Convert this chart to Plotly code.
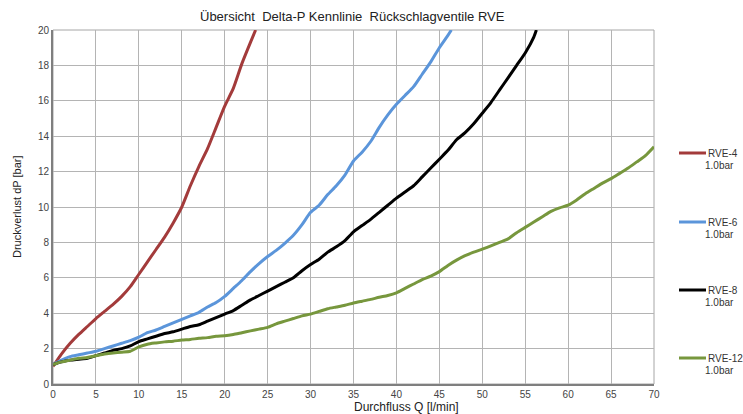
import plotly.graph_objects as go

# ---- data ----
q_rve4 = [0, 1, 2, 3, 4, 5, 6, 7, 8, 9, 10, 11, 12, 13, 14, 15, 16, 17, 18, 19, 20, 21, 22, 23, 23.6]
dp_rve4 = [1.0, 1.7, 2.3, 2.8, 3.25, 3.7, 4.1, 4.5, 4.95, 5.5, 6.2, 6.9, 7.6, 8.3, 9.1, 10.0,
           11.2, 12.3, 13.3, 14.5, 15.7, 16.7, 18.1, 19.3, 20.0]

q_rve6 = list(range(0, 47)) + [46.4]
dp_rve6 = [1.1, 1.35, 1.55, 1.65, 1.75, 1.85, 2.0, 2.15, 2.3, 2.45, 2.65, 2.9, 3.05, 3.25, 3.45,
           3.65, 3.85, 4.05, 4.35, 4.6, 4.95, 5.4, 5.85, 6.35, 6.8, 7.2, 7.55, 7.95, 8.4, 9.0,
           9.7, 10.1, 10.7, 11.2, 11.8, 12.6, 13.1, 13.7, 14.5, 15.2, 15.8, 16.3, 16.8, 17.5,
           18.2, 19.0, 19.7, 20.0]

q_rve8 = list(range(0, 57)) + [56.3]
dp_rve8 = [1.1, 1.25, 1.35, 1.4, 1.45, 1.6, 1.75, 1.9, 2.0, 2.15, 2.4, 2.55, 2.7, 2.85, 2.95,
           3.1, 3.25, 3.35, 3.55, 3.75, 3.95, 4.15, 4.45, 4.75, 5.0, 5.25, 5.5, 5.75, 6.0, 6.4,
           6.75, 7.05, 7.45, 7.75, 8.1, 8.6, 8.95, 9.3, 9.7, 10.1, 10.5, 10.85, 11.2, 11.7,
           12.2, 12.7, 13.2, 13.8, 14.2, 14.7, 15.3, 15.9, 16.6, 17.3, 18.0, 18.7, 19.6, 20.0]

q_rve12 = list(range(0, 71))
dp_rve12 = [1.1, 1.25, 1.35, 1.45, 1.5, 1.6, 1.7, 1.75, 1.8, 1.85, 2.1, 2.25, 2.32, 2.38, 2.42,
            2.48, 2.52, 2.58, 2.62, 2.7, 2.73, 2.8, 2.9, 3.0, 3.1, 3.2, 3.4, 3.55, 3.7, 3.85,
            3.95, 4.1, 4.25, 4.35, 4.45, 4.58, 4.68, 4.78, 4.9, 5.0, 5.15, 5.4, 5.65, 5.9, 6.1,
            6.35, 6.7, 7.0, 7.25, 7.45, 7.62, 7.8, 8.0, 8.2, 8.55, 8.85, 9.15, 9.45, 9.75, 9.95,
            10.1, 10.4, 10.75, 11.05, 11.35, 11.6, 11.9, 12.2, 12.55, 12.9, 13.4]

series_names = ["RVE-4", "RVE-6", "RVE-8", "RVE-12"]
series_sub = ["1.0bar", "1.0bar", "1.0bar", "1.0bar"]
series_colors = ["#A33B3B", "#5B95DA", "#000000", "#77973D"]
series_q = [q_rve4, q_rve6, q_rve8, q_rve12]
series_dp = [dp_rve4, dp_rve6, dp_rve8, dp_rve12]

title_text = "Übersicht  Delta-P Kennlinie  Rückschlagventile RVE"
x_title = "Durchfluss Q [l/min]"
y_title = "Druckverlust dP [bar]"

FONT = "Liberation Sans, Arial, sans-serif"

fig = go.Figure()
for name, col, qx, dpy in zip(series_names, series_colors, series_q, series_dp):
    fig.add_trace(go.Scatter(x=qx, y=dpy, mode="lines", name=name,
                             line=dict(color=col, width=3, shape="spline", smoothing=0.6),
                             showlegend=False, cliponaxis=True))

W, H = 743, 414
# plot area in page pixels: x 53..654, y 30..384
L, T = 53, 30
R, B = W - 654, H - 384
pw, ph = W - L - R, H - T - B

def px2paper_x(px):
    return (px - L) / pw

def py2paper_y(py):
    return (H - B - py) / ph

# manual legend (line samples + labels)
legend_y = [153, 222, 290, 358]
shapes = []
annotations = []
for name, sub, col, ly in zip(series_names, series_sub, series_colors, legend_y):
    shapes.append(dict(type="line", xref="paper", yref="paper",
                       x0=px2paper_x(679), x1=px2paper_x(706),
                       y0=py2paper_y(ly), y1=py2paper_y(ly),
                       line=dict(color=col, width=3)))
    annotations.append(dict(text=name, xref="paper", yref="paper",
                            x=px2paper_x(706), y=py2paper_y(ly), xanchor="left", yanchor="middle",
                            showarrow=False, font=dict(family=FONT, size=10, color="#333333")))
    annotations.append(dict(text=sub, xref="paper", yref="paper",
                            x=px2paper_x(703), y=py2paper_y(ly + 12), xanchor="left", yanchor="middle",
                            showarrow=False, font=dict(family=FONT, size=10, color="#333333")))

# title and axis titles
annotations.append(dict(text=title_text, xref="paper", yref="paper",
                        x=px2paper_x(352), y=py2paper_y(17), xanchor="center", yanchor="middle",
                        showarrow=False, font=dict(family=FONT, size=13, color="#222222")))
annotations.append(dict(text=x_title, xref="paper", yref="paper",
                        x=px2paper_x(406), y=py2paper_y(407), xanchor="center", yanchor="middle",
                        showarrow=False, font=dict(family=FONT, size=12, color="#222222")))
annotations.append(dict(text=y_title, xref="paper", yref="paper",
                        x=px2paper_x(17), y=py2paper_y(207), xanchor="center", yanchor="middle",
                        textangle=-90,
                        showarrow=False, font=dict(family=FONT, size=11, color="#222222")))

# plot frame
shapes.append(dict(type="rect", xref="paper", yref="paper", x0=0, x1=1, y0=0, y1=1,
                   line=dict(color="#A6A6A6", width=1), layer="below"))

fig.update_layout(
    width=W, height=H,
    margin=dict(l=L, r=R, t=T, b=B),
    paper_bgcolor="white", plot_bgcolor="white",
    font=dict(family=FONT, size=10, color="#444444"),
    shapes=shapes, annotations=annotations,
    xaxis=dict(range=[0, 70], dtick=5, tick0=0, showgrid=True, gridcolor="#B4B4B4", gridwidth=1,
               showline=True, linecolor="#7F7F7F", linewidth=2, zeroline=False,
               ticks="", tickfont=dict(size=10, color="#444444"), fixedrange=True),
    yaxis=dict(range=[0, 20], dtick=2, tick0=0, showgrid=True, gridcolor="#B4B4B4", gridwidth=1,
               showline=True, linecolor="#7F7F7F", linewidth=2, zeroline=False,
               ticks="", tickfont=dict(size=10, color="#444444"), fixedrange=True),
    showlegend=False,
)

# remove the default page margin so the 743x414 figure fits the window exactly
fig.write_html("out.html",
               config={"displayModeBar": False},
               post_script="document.body.style.margin='0';document.body.style.overflow='hidden';")
